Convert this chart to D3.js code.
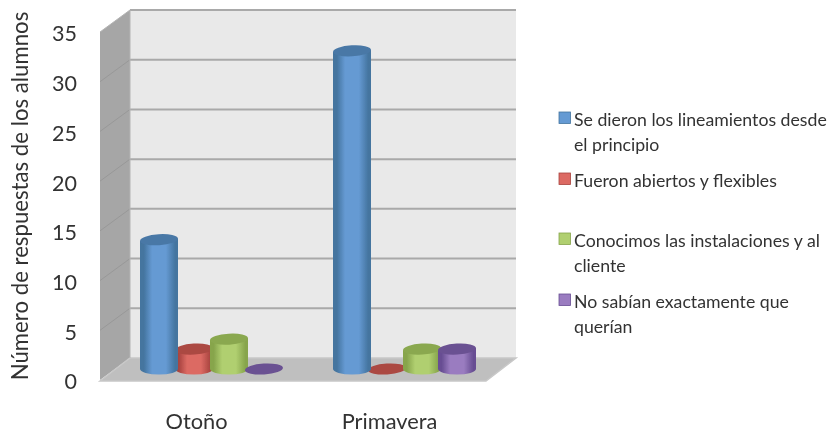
<!DOCTYPE html>
<html><head><meta charset="utf-8">
<script src="https://cdn.jsdelivr.net/npm/d3@7"></script>
<style>html,body{margin:0;padding:0;background:#fff}svg{display:block}text{font-family:Lato,"Open Sans",sans-serif;fill:#333}</style>
</head><body><div id="c"></div>
<script>
const categories = ["Otoño", "Primavera"];
const seriesNames = [
  ["Se dieron los lineamientos desde", "el principio"],
  ["Fueron abiertos y flexibles"],
  ["Conocimos las instalaciones y al", "cliente"],
  ["No sabían exactamente que", "querían"]
];
const seriesKeys = ["a", "b", "c", "d"];
const valuesA = [13, 32];
const valuesB = [2, 0];
const valuesC = [3, 2];
const valuesD = [0, 2];
const colorsMid = ["#659ad3", "#dc6a64", "#b0cf70", "#9a7cc0"];
const colorsDark = ["#44749f", "#a8443f", "#87a54c", "#684e93"];
const colorsTop = ["#4a78a6", "#ab4843", "#8aa84f", "#6b5192"];
const ticks = [0, 5, 10, 15, 20, 25, 30, 35];
const yTitle = "Número de respuestas de los alumnos";
const allValues = [valuesA, valuesB, valuesC, valuesD];

const W = 832, H = 433;
const depthX = 30, depthY = 22;
const svg = d3.select("#c").append("svg").attr("width", W).attr("height", H);
const defs = svg.append("defs");
defs.append("filter").attr("id", "soft").attr("x", "-5%").attr("y", "-5%").attr("width", "110%").attr("height", "110%")
  .append("feGaussianBlur").attr("stdDeviation", 0.5);
seriesKeys.forEach((k, i) => {
  const g = defs.append("linearGradient").attr("id", "g" + k);
  [[0, colorsDark[i]], [0.1, colorsDark[i]], [0.32, colorsMid[i]], [0.68, colorsMid[i]], [0.93, colorsDark[i]], [1, colorsDark[i]]]
    .forEach(s => g.append("stop").attr("offset", s[0]).attr("stop-color", s[1]));
});
const root = svg.append("g").attr("filter", "url(#soft)");

const y = d3.scaleLinear().domain([0, 35]).range([380, 32]);
const x = d3.scaleBand().domain(categories).range([100, 486]);
const sx = d3.scaleBand().domain(seriesKeys).range([-55, 85]);

const x0 = x.range()[0], x1 = x.range()[1];
const poly = p => p.map(d => d.join(",")).join(" ");
root.append("polygon").attr("points", poly([[x0 + depthX, y(35) - depthY], [x1 + depthX, y(35) - depthY], [x1 + depthX, y(0) - depthY], [x0 + depthX, y(0) - depthY]])).attr("fill", "#e9e9e9");
root.append("polygon").attr("points", poly([[x0, y(35)], [x0 + depthX, y(35) - depthY], [x0 + depthX, y(0) - depthY], [x0, y(0)]])).attr("fill", "#a6a6a6");
root.append("polygon").attr("points", poly([[x0, y(0) + 1], [x0 + depthX, y(0) - depthY], [x1 + depthX, y(0) - depthY], [x1, y(0) + 1]])).attr("fill", "#bfbfbf").attr("stroke", "#c8c8c8").attr("stroke-width", 1.5);
const grid = root.append("g");
grid.selectAll("line.h").data(ticks.filter(t => t > 0)).join("line").attr("class", "h")
  .attr("x1", x0 + depthX).attr("x2", x1 + depthX).attr("y1", d => y(d) - depthY).attr("y2", d => y(d) - depthY)
  .attr("stroke", "#a9a9a9").attr("stroke-width", 2);
grid.selectAll("line.d").data(ticks.filter(t => t > 0 && t < 35)).join("line").attr("class", "d")
  .attr("x1", x0).attr("x2", x0 + depthX).attr("y1", d => y(d)).attr("y2", d => y(d) - depthY)
  .attr("stroke", "#989898").attr("stroke-width", 1);
root.append("line").attr("x1", x0 + depthX).attr("x2", x0 + depthX).attr("y1", y(35) - depthY).attr("y2", y(0) - depthY).attr("stroke", "#b4b4b4").attr("stroke-width", 1);
root.append("line").attr("x1", x0).attr("x2", x0 + depthX).attr("y1", y(35)).attr("y2", y(35) - depthY).attr("stroke", "#b4b4b4").attr("stroke-width", 1);

const rx = 19, ry = 5.5, tilt = -3.5, lift = 11;
const skew = rx * Math.tan(-tilt * Math.PI / 180);
const marks = [];
categories.forEach((c, ci) => seriesKeys.forEach((k, si) => marks.push({ c, ci, k, si, v: allValues[si][ci] })));
const order = [1, 0, 2, 3];
marks.sort((a, b) => a.ci - b.ci || order.indexOf(a.si) - order.indexOf(b.si));
const bars = root.append("g").selectAll("g").data(marks).join("g")
  .attr("transform", d => `translate(${x(d.c) + x.bandwidth() / 2 + sx(d.k) + sx.bandwidth() / 2},0)`);
bars.filter(d => d.v > 0).append("path")
  .attr("d", d => {
    const b = y(0) - lift, t = y(d.v) - lift;
    return `M${-rx},${t + skew}L${-rx},${b}A${rx},${ry} 0 0 0 ${rx},${b}L${rx},${t - skew}Z`;
  })
  .attr("fill", d => `url(#g${d.k})`);
bars.append("ellipse")
  .attr("rx", rx).attr("ry", ry)
  .attr("transform", d => `translate(0,${y(d.v) - lift}) rotate(${tilt})`)
  .attr("fill", d => colorsTop[d.si]);

const yAxis = root.append("g").attr("transform", "translate(77,2)")
  .call(d3.axisLeft(y).tickValues(ticks).tickSize(0).tickPadding(0));
yAxis.select(".domain").remove();
yAxis.selectAll("text").attr("font-size", 21.5).style("font-family", "Lato");
const xAxis = root.append("g").attr("transform", "translate(0,421)")
  .call(d3.axisBottom(x).tickSize(0).tickPadding(0));
xAxis.select(".domain").remove();
xAxis.selectAll("text").attr("dy", "0.35em").attr("y", 0).attr("font-size", 21.8).style("font-family", "Lato");
root.append("text").attr("transform", "translate(20,196) rotate(-90)").attr("text-anchor", "middle").attr("dy", "0.35em")
  .attr("font-size", 22.2).text(yTitle);

const legendTop = [112, 173, 233, 294];
const lineStep = 24.5;
const leg = root.append("g").selectAll("g").data(seriesNames).join("g")
  .attr("transform", (d, i) => `translate(559,${legendTop[i]})`);
leg.append("rect").attr("width", 11.5).attr("height", 11.5)
  .attr("fill", (d, i) => colorsMid[i]).attr("stroke", (d, i) => colorsDark[i]).attr("stroke-width", 0.8);
leg.selectAll("text").data(d => d).join("text")
  .attr("x", 15).attr("y", (d, i) => 14 + i * lineStep)
  .attr("font-size", 17.7).text(d => d);
</script></body></html>
